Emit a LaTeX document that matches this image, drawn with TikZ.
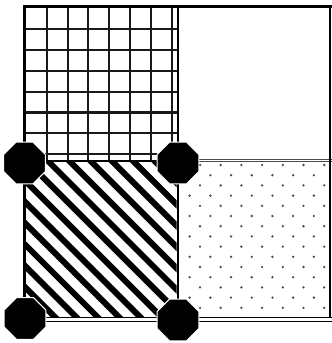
\documentclass[tikz,border=0pt]{standalone}
\usepackage{tikz}
\usetikzlibrary{shapes.geometric}

\begin{document}
\begin{tikzpicture}[
  x=1pt, y=-1pt,
  frame/.style    = {black, line width=3pt},
  divider/.style  = {black, line width=2pt},
  gridline/.style = {black!90, line width=2.1pt},
  stripe/.style   = {black, line width=6pt},
  seam/.style     = {black!70, line width=1pt},
  rail/.style     = {black, line width=1.5pt},
  dotmark/.style  = {fill=black!70, draw=none},
  corner/.style   = {regular polygon, regular polygon sides=8, fill=black,
                     draw=white, line width=1pt, inner sep=0pt,
                     minimum size=45pt}
]
\useasboundingbox (0,0) rectangle (332,343);

% ---------- upper left: grid ----------
\foreach \i in {1,...,7} {
  \draw[gridline] ({26+20.8*\i},8) -- ({26+20.8*\i},160);
  \draw[gridline] (25,{8.5+20.8*\i}) -- (177,{8.5+20.8*\i});
}

% ---------- lower left: stripes ----------
\begin{scope}
  \clip (26,162) rectangle (176.5,316);
  \foreach \k in {-8,...,5}
    \draw[stripe] ({-113+21.3*\k+150},150) -- ++(180,180);
\end{scope}

% ---------- lower right: dots ----------
\begin{scope}
  \clip (181,163) rectangle (328,314);
  \foreach \j in {0,...,14}
    \foreach \k in {-1,...,7}
      \fill[dotmark] ({200+10.35*mod(\j,2)+20.7*\k},{165+10.2*\j}) circle (1.3pt);
\end{scope}

% ---------- frame and dividers ----------
\draw[seam] (178,159.3) -- (332,159.3);
\draw[seam] (178,161.8) -- (332,161.8);
\draw[frame] (23,6) -- (332,6);
\draw[frame] (24.5,5) -- (24.5,318);
\draw[divider] (330.3,6) -- (330.3,316.5);
\draw[divider] (177.5,7) -- (177.5,318);
\draw[divider] (24,160.5) -- (178,160.5);
\draw[rail] (24,317.5) -- (332,317.5);
\draw[rail] (24,321.5) -- (332,321.5);

% ---------- corner posts ----------
\node[corner] (nw) at (24.5,163) {};
\node[corner] (ne) at (178,163) {};
\node[corner] (sw) at (25,318.5) {};
\node[corner] (se) at (178,320) {};

\end{tikzpicture}
\end{document}
